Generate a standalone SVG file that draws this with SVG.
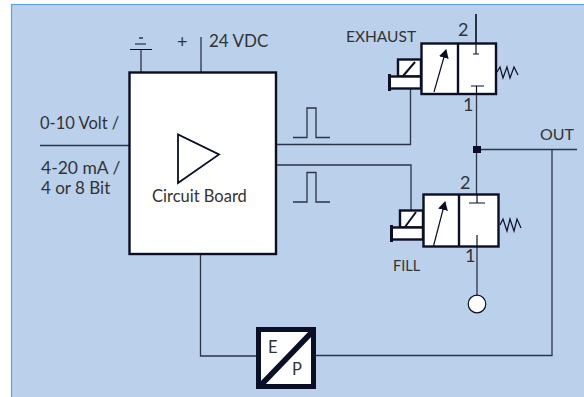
<svg xmlns="http://www.w3.org/2000/svg" width="584" height="397" viewBox="0 0 584 397">
<style>
text{font-family:"Lato","Liberation Sans",sans-serif;font-size:16.500px;fill:#333;}
.s{font-size:15.500px}
.d{font-size:18px}
.l{fill:none;stroke:#2d3348;stroke-width:1.3}
.b{fill:#fff;stroke:#0b0f26;stroke-width:2.4}
.t{fill:none;stroke:#0b0f26;stroke-width:1.2}
</style>
<defs>
<marker id="ah" markerWidth="9" markerHeight="14" refX="8" refY="5" orient="auto" markerUnits="userSpaceOnUse"><path d="M0 0L9 5L0 10Z" fill="#0b0f26"/></marker>
</defs>
<rect x="11.500" y="4.500" width="580" height="400" fill="#bad0eb" stroke="#5ba4dc" stroke-width="1.200"/>
<g id="connectors">
<path class="l" d="M141 49V72"/>
<path class="l" d="M201 37V72"/>
<path class="l" d="M40 145.500H129"/>
<path class="l" d="M276 144.500H410.500V88"/>
<path class="l" d="M276 165H411V210"/>
<path class="l" d="M200.500 254V356H256"/>
<path class="l" d="M476 14V54"/>
<path class="l" d="M476.500 86V203"/>
<path class="l" d="M477 235V296"/>
<path class="l" d="M477 149.500H577"/>
<path class="l" d="M552 149.500V355.500H316"/>
<rect x="473" y="146" width="8" height="7" fill="#0b0f26"/>
</g>
<g id="ground">
<path class="t" d="M130 49.500H152M135 44H146"/>
<path class="t" d="M139 38H143"/>
</g>
<g id="supply"><text x="177" y="48" class="d">+</text><text x="209" y="47" style="font-size:17px">24 VDC</text></g>
<g id="input"><text x="40" y="129">0-10 Volt /</text><text x="41" y="174" style="font-size:17.500px">4-20 mA /</text><text x="41" y="194" style="font-size:17px">4 or 8 Bit</text></g>
<g id="circuit-board">
<rect class="b" x="129.500" y="72.500" width="146.500" height="181.500"/>
<path d="M178 134.500V183L219 154.500Z" fill="#fff" stroke="#0b0f26" stroke-width="1.800"/>
<text x="152" y="202">Circuit Board</text>
</g>
<g id="pulse-1"><path class="l" d="M293 137.500H307V108H316V137.500H330"/></g>
<g id="pulse-2"><path class="l" d="M293 202H307V172.500H316V202H330"/></g>
<g id="exhaust-valve">
<text x="346" y="42" class="s">EXHAUST</text>
<rect class="b" x="398" y="59.500" width="23" height="17"/>
<rect class="b" x="389.500" y="76.500" width="31.500" height="12"/>
<path d="M389.500 74V91" stroke="#0b0f26" stroke-width="3"/>
<path d="M403 76L415 62" stroke="#0b0f26" stroke-width="2"/>
<rect class="b" x="421.500" y="43.500" width="74.500" height="50.500"/>
<path d="M458 44V94" stroke="#0b0f26" stroke-width="2.400"/>
<path class="t" d="M434 92L446 50" marker-end="url(#ah)"/>
<path class="t" d="M476 14V54M473 54H479M476.500 86V94M471 86H484"/>
<path class="t" d="M497 72L500 67L503 78L507 67L510 78L514 67L518 75"/>
<text x="458" y="36" class="d">2</text>
<text x="463" y="111" class="d">1</text>
</g>
<g id="fill-valve">
<text x="393" y="271" style="font-size:14.500px">FILL</text>
<rect class="b" x="400" y="210.500" width="23" height="17"/>
<rect class="b" x="391.500" y="227.500" width="31.500" height="12"/>
<path d="M391.500 225V242" stroke="#0b0f26" stroke-width="3"/>
<path d="M405 227L416 212" stroke="#0b0f26" stroke-width="2"/>
<rect class="b" x="423.500" y="194.500" width="75" height="52"/>
<path d="M459 195V247" stroke="#0b0f26" stroke-width="2.400"/>
<path class="t" d="M433.500 246L445 202" marker-end="url(#ah)"/>
<path class="t" d="M477 194V203M469 203H485M477 235V247"/>
<path class="t" d="M500 225L503 219L507 231L510 219L514 231L517 219L521 228"/>
<text x="460" y="189" class="d">2</text>
<text x="465" y="262" class="d">1</text>
</g>
<g id="out-label"><text x="540" y="140" style="font-size:16px">OUT</text></g>
<g id="supply-node"><circle cx="477" cy="304" r="8.800" fill="#fff" stroke="#0b0f26" stroke-width="1.200"/></g>
<g id="ep-converter">
<rect x="258.500" y="329.500" width="55" height="57" fill="#fff" stroke="#0b0f26" stroke-width="5"/>
<path d="M313 331L260 386" stroke="#0b0f26" stroke-width="5.500"/>
<text x="268" y="353">E</text>
<text x="292" y="375">P</text>
</g>
</svg>
